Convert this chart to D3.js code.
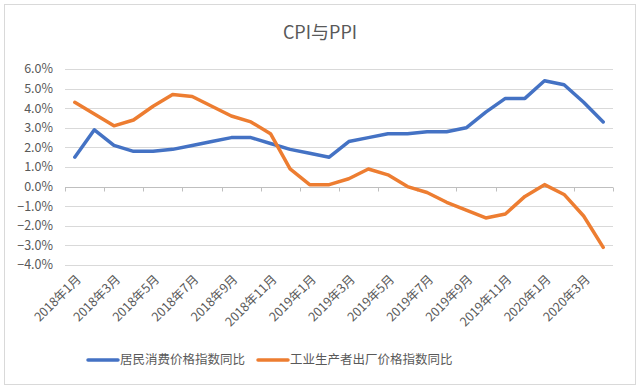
<!DOCTYPE html>
<html><head><meta charset="utf-8">
<script src="https://cdn.jsdelivr.net/npm/d3@7"></script>
<style>body{margin:0;background:#fff}svg{display:block}</style>
</head><body><svg id="c" width="640" height="390"></svg>
<script>
const categories = [
 "2018年1月","2018年2月","2018年3月","2018年4月","2018年5月","2018年6月","2018年7月","2018年8月","2018年9月","2018年10月","2018年11月","2018年12月",
 "2019年1月","2019年2月","2019年3月","2019年4月","2019年5月","2019年6月","2019年7月","2019年8月","2019年9月","2019年10月","2019年11月","2019年12月",
 "2020年1月","2020年2月","2020年3月","2020年4月"];
const cpi = [1.5,2.9,2.1,1.8,1.8,1.9,2.1,2.3,2.5,2.5,2.2,1.9, 1.7,1.5,2.3,2.5,2.7,2.7,2.8,2.8,3.0,3.8,4.5,4.5, 5.4,5.2,4.3,3.3];
const ppi = [4.3,3.7,3.1,3.4,4.1,4.7,4.6,4.1,3.6,3.3,2.7,0.9, 0.1,0.1,0.4,0.9,0.6,0.0,-0.3,-0.8,-1.2,-1.6,-1.4,-0.5, 0.1,-0.4,-1.5,-3.1];
const yTicks = [6,5,4,3,2,1,0,-1,-2,-3,-4];
const seriesNames = ["居民消费价格指数同比","工业生产者出厂价格指数同比"];
const colors = ["#4472C4","#ED7D31"];

const svg = d3.select("#c");
const font = "'Noto Sans CJK SC', 'Noto Sans', sans-serif";
svg.append("rect").attr("x",4.5).attr("y",4.5).attr("width",631).attr("height",380)
  .attr("fill","#fff").attr("stroke","#d9d9d9");

svg.append("text").attr("x",320).attr("y",39).attr("text-anchor","middle")
  .attr("font-family",font).attr("font-size",18).attr("fill","#595959").text("CPI与PPI");

const L=65, R=613;
const x = d3.scaleBand().domain(categories).range([L,R]);
const y = d3.scaleLinear().domain([-4,6]).range([265,69]);

svg.append("g").selectAll("line").data(yTicks).join("line")
  .attr("x1",L).attr("x2",R).attr("y1",d=>Math.round(y(d))+0.5).attr("y2",d=>Math.round(y(d))+0.5)
  .attr("stroke","#d9d9d9").attr("stroke-width",1);

svg.append("g").selectAll("text").data(yTicks).join("text")
  .attr("x",53).attr("y",d=>y(d)).attr("dy","0.35em").attr("text-anchor","end")
  .attr("font-family",font).attr("font-size",12.5).attr("fill","#595959")
  .text(d=>d3.format(".1f")(d)+"%");

const zy = Math.round(y(0))+0.5;
svg.append("line").attr("x1",L).attr("x2",R).attr("y1",zy).attr("y2",zy).attr("stroke","#bfbfbf");
const tickIdx = d3.range(0,categories.length+1,2);
svg.append("g").selectAll("line").data(tickIdx).join("line")
  .attr("x1",i=>Math.round(i<categories.length? x(categories[i]) : R)+0.5)
  .attr("x2",i=>Math.round(i<categories.length? x(categories[i]) : R)+0.5)
  .attr("y1",zy).attr("y2",zy+4).attr("stroke","#bfbfbf");

const labIdx = d3.range(0,categories.length,2);
svg.append("g").selectAll("text").data(labIdx).join("text")
  .attr("transform",i=>`translate(${x(categories[i])+x.bandwidth()/2+4},${277}) rotate(-45)`)
  .attr("text-anchor","end").attr("dy","0.35em")
  .attr("font-family",font).attr("font-size",12.5).attr("fill","#595959")
  .text(i=>categories[i]);

const line = d3.line().x((d,i)=>x(categories[i])+x.bandwidth()/2).y(d=>y(d));
[cpi,ppi].forEach((s,k)=>{
  svg.append("path").datum(s).attr("d",line).attr("fill","none")
    .attr("stroke",colors[k]).attr("stroke-width",3.5).attr("stroke-linejoin","round").attr("stroke-linecap","round");
});

const lg = [{x:88,t:seriesNames[0],c:colors[0]},{x:258,t:seriesNames[1],c:colors[1]}];
lg.forEach(d=>{
  svg.append("line").attr("x1",d.x).attr("x2",d.x+30).attr("y1",360).attr("y2",360)
    .attr("stroke",d.c).attr("stroke-width",3.5).attr("stroke-linecap","round");
  svg.append("text").attr("x",d.x+32).attr("y",360).attr("dy","0.35em")
    .attr("font-family",font).attr("font-size",12.5).attr("fill","#595959").text(d.t);
});
</script></body></html>
